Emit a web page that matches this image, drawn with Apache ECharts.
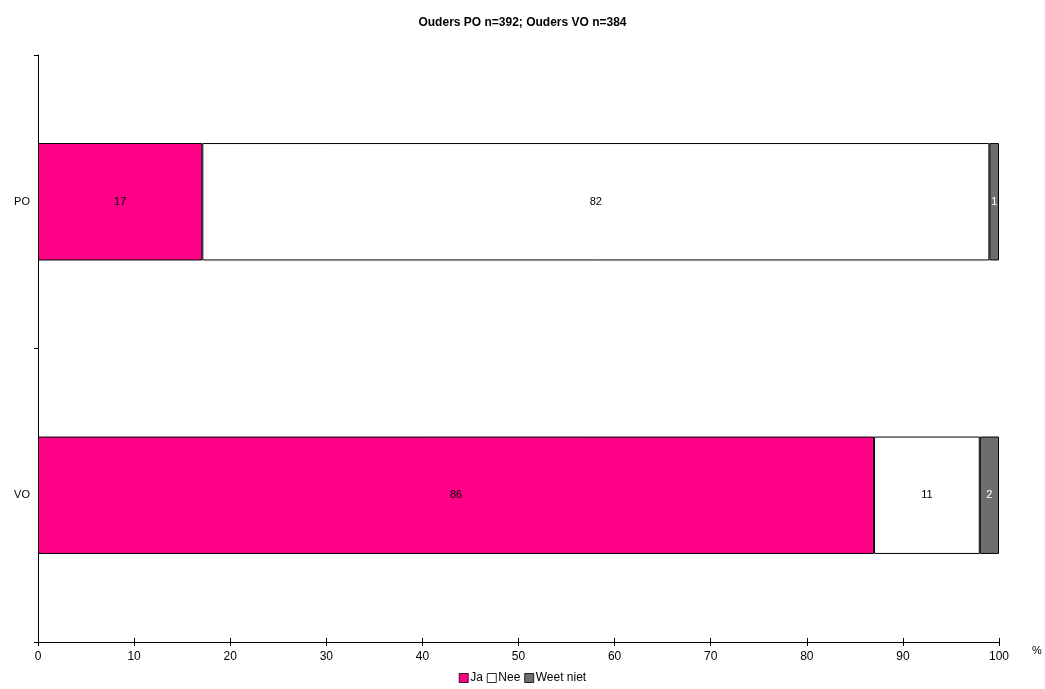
<!DOCTYPE html>
<html>
<head>
<meta charset="utf-8">
<script src="https://cdn.jsdelivr.net/npm/echarts@6/dist/echarts.min.js"></script>
<style>html,body{margin:0;padding:0;background:#fff}#c{width:1045px;height:689px}</style>
</head>
<body>
<div id="c"></div>
<script>
var categories = ['PO', 'VO'];
var seriesNames = ['Ja', 'Nee', 'Weet niet'];
var jaValues = [17.1, 87.0];
var neeValues = [81.9, 11.0];
var weetNietValues = [1.0, 2.0];
var jaLabels = ['17', '86'];
var neeLabels = ['82', '11'];
var weetNietLabels = ['1', '2'];
var xTicks = [0, 10, 20, 30, 40, 50, 60, 70, 80, 90, 100];

var font = 'Liberation Sans, Arial, sans-serif';
var chart = echarts.init(document.getElementById('c'), null, {renderer: 'canvas'});

function mkSeries(name, vals, labels, color, labelColor) {
  return {
    name: name, type: 'bar', stack: 'tot', barWidth: '40%',
    xAxisIndex: 0, yAxisIndex: 0,
    data: vals,
    itemStyle: {color: color, borderColor: '#000', borderWidth: 1},
    label: {
      show: true, position: 'inside', color: labelColor,
      fontFamily: font, fontSize: 11,
      formatter: function (p) { return labels[p.dataIndex]; }
    },
    emphasis: {disabled: true}
  };
}

chart.setOption({
  animation: false,
  backgroundColor: '#fff',
  title: {
    text: 'Ouders PO n=392; Ouders VO n=384',
    left: 'center', top: 12,
    textStyle: {fontFamily: font, fontSize: 12, fontWeight: 'bold', color: '#000'}
  },
  legend: {
    bottom: 0, left: 'center',
    itemWidth: 9, itemHeight: 9, itemGap: 4,
    icon: 'rect',
    itemStyle: {borderWidth: 0.8},
    textStyle: {fontFamily: font, fontSize: 12, color: '#000', padding: [0, 0, 0, -3]},
    data: seriesNames
  },
  grid: {left: 38, right: 46, top: 55, bottom: 47, containLabel: false},
  xAxis: [{
    type: 'value', min: 0, max: 100, interval: 10,
    name: '%', nameLocation: 'end', nameGap: 33,
    nameTextStyle: {fontFamily: font, fontSize: 11, color: '#000', verticalAlign: 'top', padding: [3, 0, 0, 0]},
    axisLine: {show: true, lineStyle: {color: '#000', width: 1}},
    axisTick: {show: true, length: 4, lineStyle: {color: '#000'}},
    axisLabel: {fontFamily: font, fontSize: 12, color: '#000', margin: 9,
      formatter: function (v) { return xTicks.indexOf(v) >= 0 ? String(v) : ''; }},
    splitLine: {show: false}
  }, {
    type: 'value', min: 0, max: 100, interval: 10, position: 'bottom',
    axisLine: {show: false},
    axisTick: {show: true, inside: true, length: 4, lineStyle: {color: '#000'}},
    axisLabel: {show: false},
    splitLine: {show: false}
  }],
  yAxis: {
    type: 'category', data: categories, inverse: true,
    axisLine: {show: true, lineStyle: {color: '#000', width: 1}},
    axisTick: {show: true, length: 4, lineStyle: {color: '#000'}},
    axisLabel: {fontFamily: font, fontSize: 11, color: '#000', margin: 8}
  },
  series: [
    mkSeries('Ja', jaValues, jaLabels, '#ff0086', '#000'),
    mkSeries('Nee', neeValues, neeLabels, '#ffffff', '#000'),
    mkSeries('Weet niet', weetNietValues, weetNietLabels, '#6e6e6e', '#fff')
  ]
});
</script>
</body>
</html>
